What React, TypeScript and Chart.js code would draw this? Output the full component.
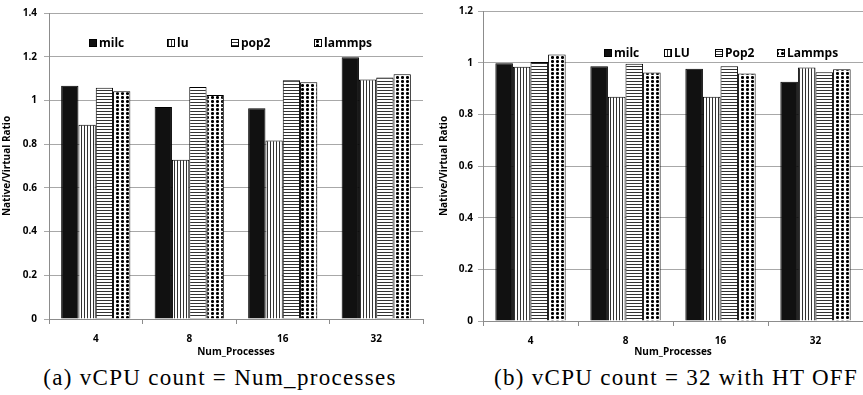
import React, { useEffect, useRef } from 'react';
import { Chart, registerables } from 'chart.js';

Chart.register(...registerables);

// ---------- data ----------
const categories = ['4', '8', '16', '32'];

const seriesNamesA = ['milc', 'lu', 'pop2', 'lammps'];
const milcA = [1.067, 0.97, 0.964, 1.197];
const luA = [0.889, 0.729, 0.817, 1.096];
const pop2A = [1.058, 1.061, 1.092, 1.105];
const lammpsA = [1.042, 1.025, 1.083, 1.12];

const seriesNamesB = ['milc', 'LU', 'Pop2', 'Lammps'];
const milcB = [0.998, 0.986, 0.976, 0.926];
const luB = [0.984, 0.868, 0.868, 0.981];
const pop2B = [1.003, 0.996, 0.986, 0.963];
const lammpsB = [1.032, 0.962, 0.958, 0.975];

const yTicksA = ['0', '0.2', '0.4', '0.6', '0.8', '1', '1.2', '1.4'];
const yTicksB = ['0', '0.2', '0.4', '0.6', '0.8', '1', '1.2'];

const xTitle = 'Num_Processes';
const yTitle = 'Native/Virtual Ratio';
const captionA = '(a) vCPU count = Num_processes';
const captionB = '(b) vCPU count = 32 with HT OFF';

// ---------- styling helpers ----------
const FONT = '"Open Sans", "Liberation Sans", sans-serif';

function makePattern(kind: string): any {
  if (kind === 'solid') return '#111111';
  const c = document.createElement('canvas');
  const ctx = c.getContext('2d')!;
  if (kind === 'v') {
    c.width = 3; c.height = 1;
    ctx.fillStyle = '#ffffff'; ctx.fillRect(0, 0, 3, 1);
    ctx.fillStyle = '#333333'; ctx.fillRect(0, 0, 1, 1);
  } else if (kind === 'h') {
    c.width = 1; c.height = 3;
    ctx.fillStyle = '#ffffff'; ctx.fillRect(0, 0, 1, 3);
    ctx.fillStyle = '#333333'; ctx.fillRect(0, 0, 1, 1);
  } else {
    c.width = 5; c.height = 4;
    ctx.fillStyle = '#ffffff'; ctx.fillRect(0, 0, 5, 4);
    ctx.fillStyle = '#000000';
    ctx.fillRect(1, 0, 3, 3);
    ctx.fillStyle = '#555555';
    ctx.fillRect(1, 0, 1, 1); ctx.fillRect(3, 0, 1, 1);
    ctx.fillRect(1, 2, 1, 1); ctx.fillRect(3, 2, 1, 1);
  }
  return ctx.createPattern(c, 'repeat');
}

const inlineLegend = {
  id: 'inlineLegend',
  afterDraw(chart: any, _args: any, opts: any) {
    const { ctx } = chart;
    chart.data.datasets.forEach((ds: any, i: number) => {
      const x = opts.xs[i];
      const y = opts.y;
      ctx.save();
      ctx.fillStyle = ds.backgroundColor;
      ctx.fillRect(x, y - 4, 8, 8);
      ctx.strokeStyle = '#000';
      ctx.lineWidth = 1;
      ctx.strokeRect(x + 0.5, y - 3.5, 7, 7);
      ctx.fillStyle = '#000';
      ctx.font = `bold 12px ${FONT}`;
      ctx.textBaseline = 'middle';
      ctx.textAlign = 'left';
      ctx.fillText(ds.label, x + 10, y + 0.5);
      ctx.restore();
    });
  },
};

type PanelProps = {
  width: number;
  height: number;
  names: string[];
  series: number[][];
  yMax: number;
  yTicks: string[];
  yAxisWidth: number;
  padTop: number;
  padRight: number;
  plotBottom: number;
  yTitlePad: number;
  tickPad: number;
  legendXs: number[];
  legendY: number;
};

function BarPanel(p: PanelProps) {
  const ref = useRef<HTMLCanvasElement>(null);
  useEffect(() => {
    const kinds = ['solid', 'v', 'h', 'dots'];
    const tickFont = { family: FONT, size: 10, weight: 'bold' as const };
    const chart = new Chart(ref.current!, {
      type: 'bar',
      data: {
        labels: categories,
        datasets: p.series.map((vals, i) => ({
          label: p.names[i],
          data: vals,
          backgroundColor: makePattern(kinds[i]),
          borderColor: '#000000',
          borderWidth: 1,
          barPercentage: 1,
          categoryPercentage: 0.74,
        })),
      },
      options: {
        responsive: false,
        animation: false,
        devicePixelRatio: 1,
        layout: { padding: { top: p.padTop, right: p.padRight, left: 0, bottom: 0 } },
        plugins: {
          legend: { display: false },
          tooltip: { enabled: false },
          inlineLegend: { xs: p.legendXs, y: p.legendY },
        } as any,
        scales: {
          x: {
            ticks: { font: tickFont, color: '#000', padding: 9, maxRotation: 0 },
            grid: { offset: true, drawOnChartArea: false, tickLength: 5, color: '#8c8c8c' },
            border: { color: '#8c8c8c' },
            title: {
              display: true, text: xTitle, font: tickFont, color: '#000',
              padding: { top: 0, bottom: 4 },
            },
            afterFit: (s: any) => { s.height = p.height - p.plotBottom; },
          },
          y: {
            min: 0,
            max: p.yMax,
            ticks: {
              stepSize: 0.2,
              font: tickFont,
              color: '#000',
              padding: p.tickPad,
              callback: (v: any) => p.yTicks[Math.round(Number(v) / 0.2)],
            },
            grid: { color: '#a8a8a8', tickLength: 5 },
            border: { color: '#8c8c8c' },
            title: {
              display: true, text: yTitle, font: tickFont, color: '#000',
              padding: { top: p.yTitlePad, bottom: 0 },
            },
            afterFit: (s: any) => { s.width = p.yAxisWidth; },
          },
        },
      },
      plugins: [inlineLegend],
    });
    return () => chart.destroy();
  }, []);
  return <canvas ref={ref} width={p.width} height={p.height} style={{ display: 'block', width: p.width, height: p.height }} />;
}

const captionStyle: React.CSSProperties = {
  position: 'absolute',
  top: 365,
  fontFamily: '"Liberation Serif", serif',
  fontSize: 23,
  letterSpacing: '1.3px',
  lineHeight: '26px',
  textAlign: 'center',
  color: '#000',
  whiteSpace: 'nowrap',
};

export default function App() {
  return (
    <div style={{ position: 'absolute', left: 0, top: 0, width: 863, height: 395, background: '#fff', overflow: 'hidden' }}>
      <div style={{ position: 'absolute', left: 0, top: 0 }}>
        <BarPanel
          width={430} height={362}
          names={seriesNamesA}
          series={[milcA, luA, pop2A, lammpsA]}
          yMax={1.4} yTicks={yTicksA}
          yAxisWidth={49} padTop={13} padRight={7} plotBottom={319}
          yTitlePad={1} tickPad={7}
          legendXs={[89, 167, 231, 314]} legendY={43}
        />
      </div>
      <div style={{ position: 'absolute', left: 430, top: 0 }}>
        <BarPanel
          width={433} height={362}
          names={seriesNamesB}
          series={[milcB, luB, pop2B, lammpsB]}
          yMax={1.2} yTicks={yTicksB}
          yAxisWidth={53} padTop={9} padRight={0} plotBottom={321}
          yTitlePad={8} tickPad={5}
          legendXs={[174, 234, 285, 347]} legendY={53}
        />
      </div>
      <div style={{ ...captionStyle, left: 5, width: 430 }}>{captionA}</div>
      <div style={{ ...captionStyle, left: 460, width: 432 }}>{captionB}</div>
    </div>
  );
}
